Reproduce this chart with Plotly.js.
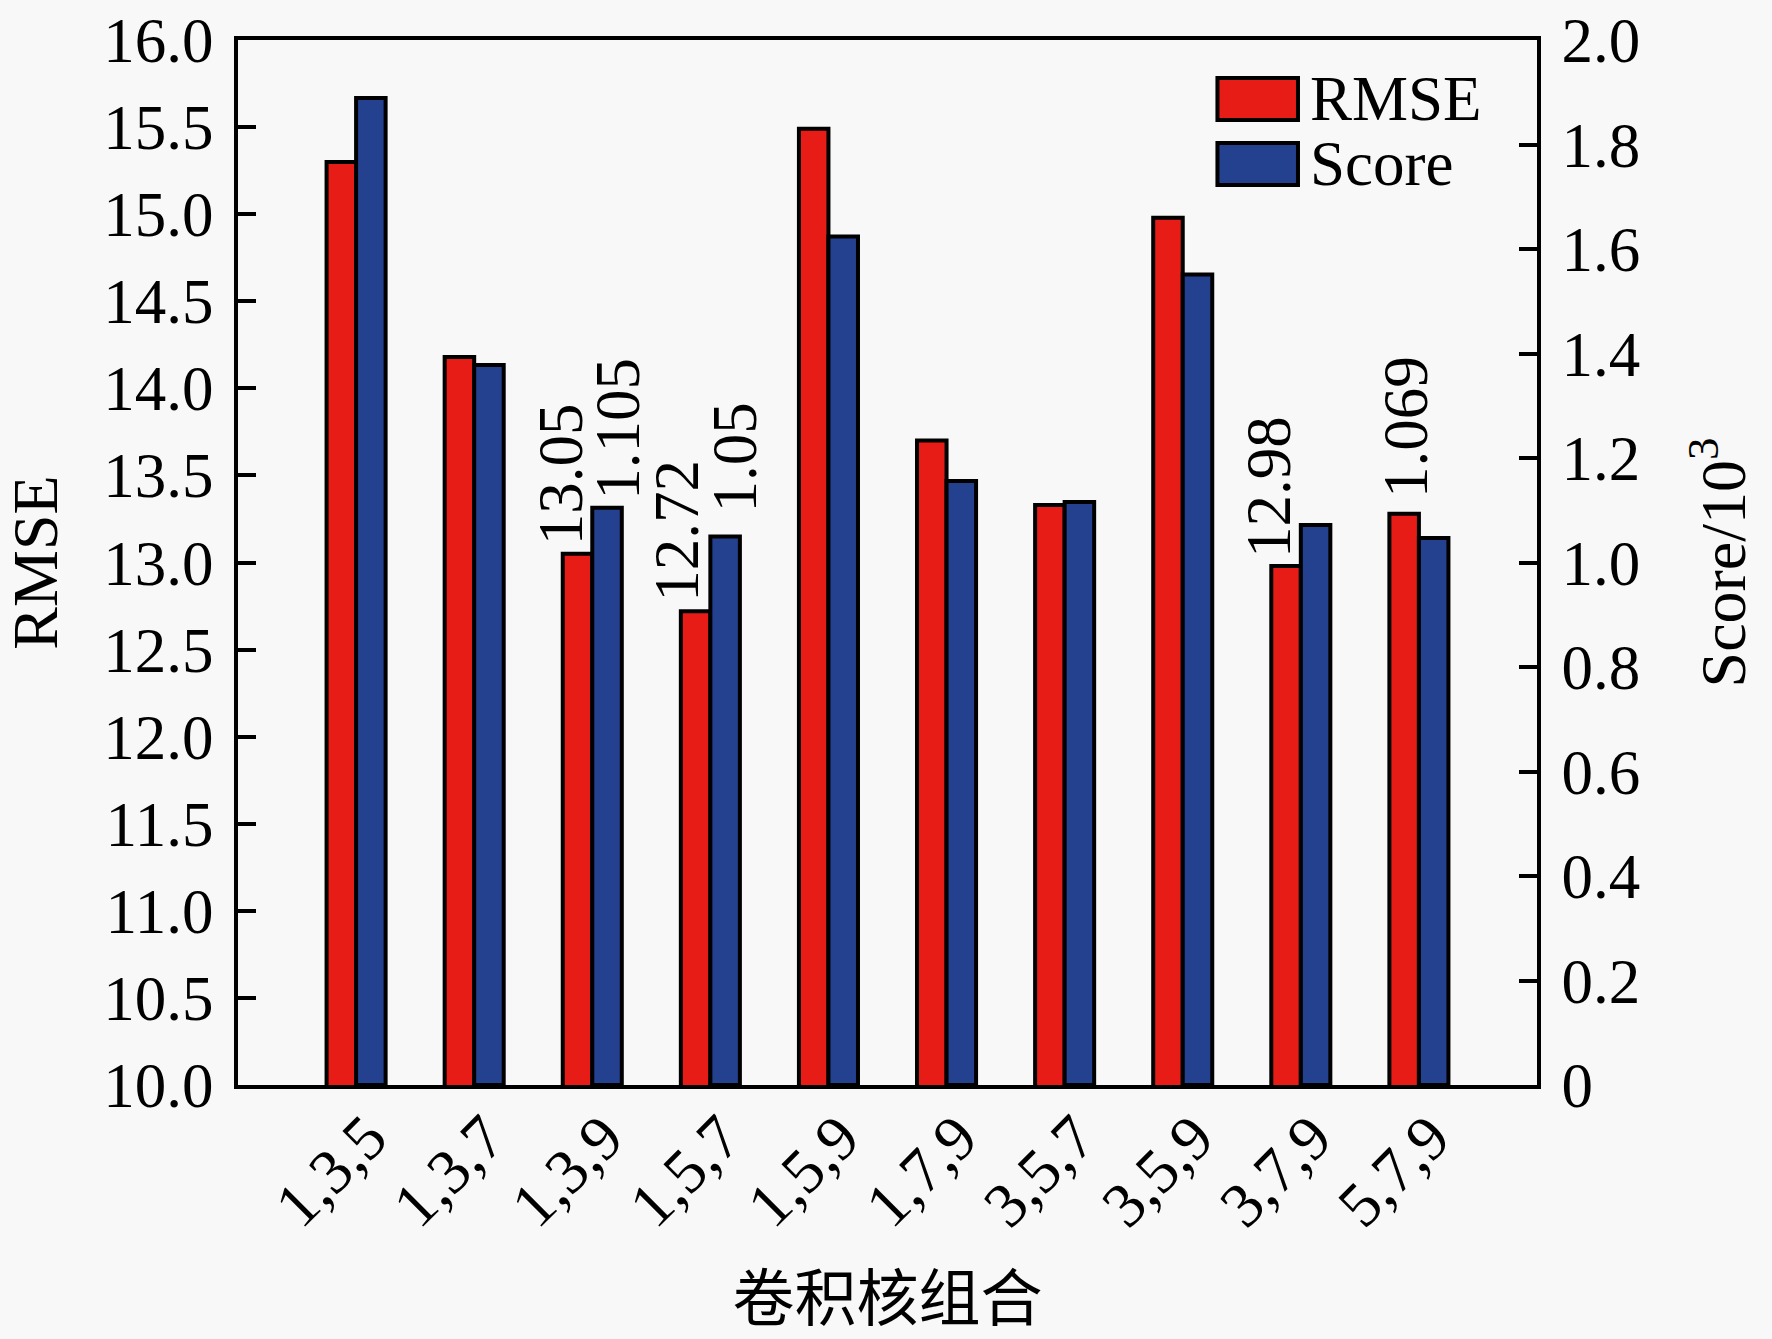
<!DOCTYPE html>
<html>
<head>
<meta charset="utf-8">
<script src="https://cdn.plot.ly/plotly-3.0.1.min.js"></script>
<style>
  html, body { margin: 0; padding: 0; background: #f8f8f8; }
  #chart { width: 1772px; height: 1339px; }
</style>
</head>
<body>
<div id="chart"></div>
<script>
// Data
const combos = ['1,3,5', '1,3,7', '1,3,9', '1,5,7', '1,5,9', '1,7,9', '3,5,7', '3,5,9', '3,7,9', '5,7,9'];
const rmse = [15.30, 14.18, 13.05, 12.72, 15.49, 13.70, 13.33, 14.98, 12.98, 13.28];
const score = [1.889, 1.378, 1.105, 1.05, 1.624, 1.156, 1.116, 1.551, 1.072, 1.047];   // x10^3

// Value labels printed above some bars (category, which bar, text)
const labelCombos = ['1,3,9', '1,3,9', '1,5,7', '1,5,7', '3,7,9', '5,7,9'];
const labelSeries = ['RMSE', 'Score', 'RMSE', 'Score', 'RMSE', 'RMSE'];
const labelTexts = ['13.05', '1.105', '12.72', '1.05', '12.98', '1.069'];
const labelShiftX = [-17, 11, -18, 10, -17, 2];
const labelShiftY = [6, 6, 7, 22, 6, 14];

const rmseTicks = [10, 10.5, 11, 11.5, 12, 12.5, 13, 13.5, 14, 14.5, 15, 15.5, 16];
const scoreTicks = [0, 0.2, 0.4, 0.6, 0.8, 1.0, 1.2, 1.4, 1.6, 1.8, 2.0];
const scoreTickText = ['0', '0.2', '0.4', '0.6', '0.8', '1.0', '1.2', '1.4', '1.6', '1.8', '2.0'];

const RED = '#e81c17';
const BLUE = '#24418f';
const SERIF = 'Times New Roman, Liberation Serif, serif';
const FONT_SIZE = 63;

const barW = 0.25;

const traces = [
    {
        type: 'bar',
        name: 'RMSE',
        x: combos,
        y: rmse,
        width: barW,
        offset: -barW,
        marker: { color: RED, line: { color: '#000', width: 4 } },
        yaxis: 'y',
        showlegend: false
    },
    {
        type: 'bar',
        name: 'Score',
        x: combos,
        y: score,
        width: barW,
        offset: 0,
        marker: { color: BLUE, line: { color: '#000', width: 4 } },
        yaxis: 'y2',
        showlegend: false
    }
];

// value labels, rotated like in the original
const annotations = labelTexts.map((t, i) => {
    const idx = combos.indexOf(labelCombos[i]);
    const isRmse = labelSeries[i] === 'RMSE';
    // '1.069' sits over the RMSE bar in the figure, so anchor on that bar
    return {
        x: idx + (isRmse ? -barW / 2 : barW / 2),
        y: isRmse ? rmse[idx] : score[idx],
        xref: 'x',
        yref: isRmse ? 'y' : 'y2',
        text: t,
        showarrow: false,
        textangle: -90,
        xanchor: 'center',
        yanchor: 'bottom',
        xshift: labelShiftX[i],
        yshift: labelShiftY[i],
        font: { family: SERIF, size: FONT_SIZE, color: '#000' }
    };
});

// hand-drawn legend (big swatches like the original)
const legendNames = ['RMSE', 'Score'];
const legendColors = [RED, BLUE];
const shapes = [];
legendNames.forEach((name, i) => {
    const y1 = 0.9636 - i * 0.0622;
    const y0 = y1 - 0.0402;
    shapes.push({
        type: 'rect', xref: 'paper', yref: 'paper',
        x0: 0.754, x1: 0.816, y0: y0, y1: y1,
        fillcolor: legendColors[i],
        line: { color: '#000', width: 4 }
    });
    annotations.push({
        xref: 'paper', yref: 'paper',
        x: 0.824, y: (y0 + y1) / 2,
        xanchor: 'left', yanchor: 'middle',
        text: name, showarrow: false,
        font: { family: SERIF, size: FONT_SIZE, color: '#000' }
    });
});

const layout = {
    width: 1772,
    height: 1339,
    margin: { l: 238, r: 235, t: 40, b: 254 },
    paper_bgcolor: '#f8f8f8',
    plot_bgcolor: '#f8f8f8',
    font: { family: SERIF, size: FONT_SIZE, color: '#000' },
    showlegend: false,
    barmode: 'overlay',
    xaxis: {
        type: 'category',
        range: [-1, 10],
        showgrid: false,
        showline: true,
        linecolor: '#000',
        linewidth: 4,
        mirror: true,
        ticks: '',
        tickangle: -45,
        tickfont: { family: SERIF, size: 63 },
        ticklabelshift: 12,
        ticklabelstandoff: -14,
        title: {
            text: '卷积核组合',
            font: { family: 'Noto Sans CJK SC, sans-serif', size: 62 },
            standoff: 52
        },
        automargin: false
    },
    yaxis: {
        range: [10, 16],
        tickvals: rmseTicks,
        tickformat: '.1f',
        showgrid: false,
        zeroline: false,
        showline: true,
        linecolor: '#000',
        linewidth: 4,
        ticks: 'inside',
        ticklen: 18,
        tickwidth: 4,
        tickcolor: '#000',
        ticklabelstandoff: 8,
        title: { text: 'RMSE', font: { family: SERIF, size: 64 }, standoff: 36 },
        automargin: false
    },
    yaxis2: {
        overlaying: 'y',
        side: 'right',
        range: [0, 2],
        tickvals: scoreTicks,
        ticktext: scoreTickText,
        showgrid: false,
        zeroline: false,
        showline: true,
        linecolor: '#000',
        linewidth: 4,
        ticks: 'inside',
        ticklen: 18,
        tickwidth: 4,
        tickcolor: '#000',
        ticklabelstandoff: 8,
        title: { text: 'Score/10<sup>3</sup>', font: { family: SERIF, size: 64 }, standoff: 62 },
        automargin: false
    },
    shapes: shapes,
    annotations: annotations
};

Plotly.newPlot('chart', traces, layout, { staticPlot: true });
</script>
</body>
</html>
